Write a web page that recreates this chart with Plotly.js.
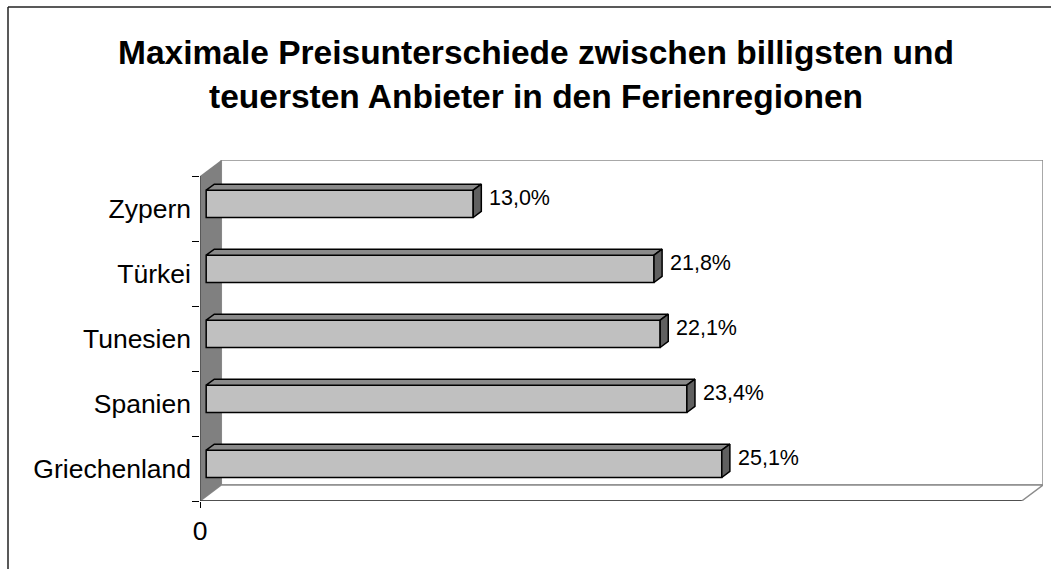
<!DOCTYPE html>
<html>
<head>
<meta charset="utf-8">
<script src="https://cdn.plot.ly/plotly-3.0.1.min.js"></script>
<style>
  html, body { margin: 0; padding: 0; background: #fff; }
  #chart { width: 1051px; height: 569px; }
</style>
</head>
<body>
<div id="chart"></div>
<script>
// ---- data ----
const categories = ["Griechenland", "Spanien", "Tunesien", "Türkei", "Zypern"];
const values = [25.1, 23.4, 22.1, 21.8, 13.0];
const valueLabels = ["25,1%", "23,4%", "22,1%", "21,8%", "13,0%"];
const xTickVals = [0];
const xTickText = ["0"];
const axisMax = 40;

// ---- 3D look parameters (axis units) ----
const W = 1051, H = 569;
const M = { l: 200, r: 8, t: 160, b: 68 };
const plotW = W - M.l - M.r, plotH = H - M.t - M.b;
const frontW = 821.7;                        // px width of front floor edge
const pxPerX = frontW / axisMax;
const DX = (plotW - frontW) / pxPerX;        // depth in x units
const pxPerY = 65;                           // px per category
const DY = (plotH - pxPerY * categories.length) / pxPerY; // depth in y units
const yMin = -0.5, yTop = categories.length - 0.5;
const f1 = 0.29, f2 = 0.67;                  // bar front/back depth fractions
const halfH = 0.21;                          // half bar thickness

const idx = categories.map((c, i) => i);

// front faces (bar trace)
const front = {
  type: 'bar', orientation: 'h',
  x: values,
  y: idx.map(i => i + f1 * DY),
  base: f1 * DX,
  width: 2 * halfH,
  marker: { color: '#C0C0C0', line: { color: '#000', width: 1.5 } },
  hoverinfo: 'skip', showlegend: false
};

// top faces & side faces (polygons)
const topX = [], topY = [], sideX = [], sideY = [];
values.forEach((v, i) => {
  const yT1 = i + halfH + f1 * DY, yT2 = i + halfH + f2 * DY;
  const yB1 = i - halfH + f1 * DY, yB2 = i - halfH + f2 * DY;
  const x0a = f1 * DX, x0b = f2 * DX, x1a = v + f1 * DX, x1b = v + f2 * DX;
  topX.push(x0a, x1a, x1b, x0b, x0a, null);
  topY.push(yT1, yT1, yT2, yT2, yT1, null);
  sideX.push(x1a, x1b, x1b, x1a, x1a, null);
  sideY.push(yB1, yB2, yT2, yT1, yB1, null);
});
const topFaces = {
  type: 'scatter', mode: 'lines', x: topX, y: topY, fill: 'toself',
  fillcolor: '#8A8A8A', line: { color: '#000', width: 1.5 },
  hoverinfo: 'skip', showlegend: false
};
const sideFaces = {
  type: 'scatter', mode: 'lines', x: sideX, y: sideY, fill: 'toself',
  fillcolor: '#606060', line: { color: '#000', width: 1.5 },
  hoverinfo: 'skip', showlegend: false
};

// walls as shapes below traces
const shapes = [
  // back wall
  { type: 'rect', xref: 'x', yref: 'y', layer: 'below',
    x0: DX, x1: axisMax + DX, y0: yMin + DY, y1: yTop + DY,
    fillcolor: '#FFFFFF', line: { color: '#8C8C8C', width: 1.5 } },
  // floor
  { type: 'path', xref: 'x', yref: 'y', layer: 'below',
    path: `M0,${yMin} L${axisMax},${yMin} L${axisMax + DX},${yMin + DY} L${DX},${yMin + DY} Z`,
    fillcolor: '#FFFFFF', line: { color: '#8C8C8C', width: 1.5 } },
  // side wall
  { type: 'path', xref: 'x', yref: 'y', layer: 'below',
    path: `M0,${yMin} L${DX},${yMin + DY} L${DX},${yTop + DY} L0,${yTop} Z`,
    fillcolor: '#808080', line: { width: 0 } },
  // front floor edge
  { type: 'line', xref: 'x', yref: 'y', layer: 'below',
    x0: 0, x1: axisMax, y0: yMin, y1: yMin, line: { color: '#333', width: 1.5 } },
  // value axis line (left front edge)
  { type: 'line', xref: 'x', yref: 'y', layer: 'below',
    x0: 0, x1: 0, y0: yMin, y1: yTop, line: { color: '#333', width: 1 } },
  // outer frame (left & top)
  { type: 'line', xref: 'paper', yref: 'paper',
    x0: (8 - M.l) / plotW, x1: (8 - M.l) / plotW, y0: -M.b / plotH, y1: 1 + (M.t - 7) / plotH,
    line: { color: '#222', width: 1.5 } },
  { type: 'line', xref: 'paper', yref: 'paper',
    x0: (8 - M.l) / plotW, x1: 1 + M.r / plotW, y0: 1 + (M.t - 7) / plotH, y1: 1 + (M.t - 7) / plotH,
    line: { color: '#222', width: 1.5 } }
];

const annotations = values.map((v, i) => ({
  x: v + f2 * DX, y: i + f2 * DY, xref: 'x', yref: 'y',
  text: valueLabels[i], showarrow: false, xanchor: 'left', yanchor: 'middle', xshift: 6,
  font: { family: 'Liberation Sans, Arial, sans-serif', size: 21.5, color: '#000' }
}));

const boundaries = idx.map(i => i - 0.5).concat([yTop]);

const layout = {
  width: W, height: H,
  margin: M,
  paper_bgcolor: '#FFFFFF', plot_bgcolor: 'rgba(0,0,0,0)',
  showlegend: false,
  title: {
    text: '<b>Maximale Preisunterschiede zwischen billigsten und<br>teuersten Anbieter in den Ferienregionen</b>',
    font: { family: 'Liberation Sans, Arial, sans-serif', size: 33.5, color: '#000' },
    xref: 'container', yref: 'container', x: 0.51, y: 1 - 64 / H, xanchor: 'center', yanchor: 'middle'
  },
  xaxis: {
    range: [0, axisMax + DX], fixedrange: true,
    showgrid: false, zeroline: false, showline: false,
    tickmode: 'array', tickvals: xTickVals, ticktext: xTickText,
    ticks: 'outside', ticklen: 6, tickcolor: '#000', tickwidth: 1,
    tickfont: { family: 'Liberation Sans, Arial, sans-serif', size: 26.5, color: '#000' }
  },
  yaxis: {
    range: [yMin, yTop + DY], fixedrange: true,
    showgrid: false, zeroline: false, showline: false,
    tickmode: 'array', tickvals: idx, ticktext: categories, ticks: '',
    ticklabelstandoff: 8,
    minor: { tickmode: 'array', tickvals: boundaries, ticks: 'outside', ticklen: 7, tickcolor: '#000', tickwidth: 1, showgrid: false },
    tickfont: { family: 'Liberation Sans, Arial, sans-serif', size: 26.5, color: '#000' }
  },
  shapes: shapes,
  annotations: annotations
};

Plotly.newPlot('chart', [front, topFaces, sideFaces], layout, { staticPlot: true, displayModeBar: false });
</script>
</body>
</html>
